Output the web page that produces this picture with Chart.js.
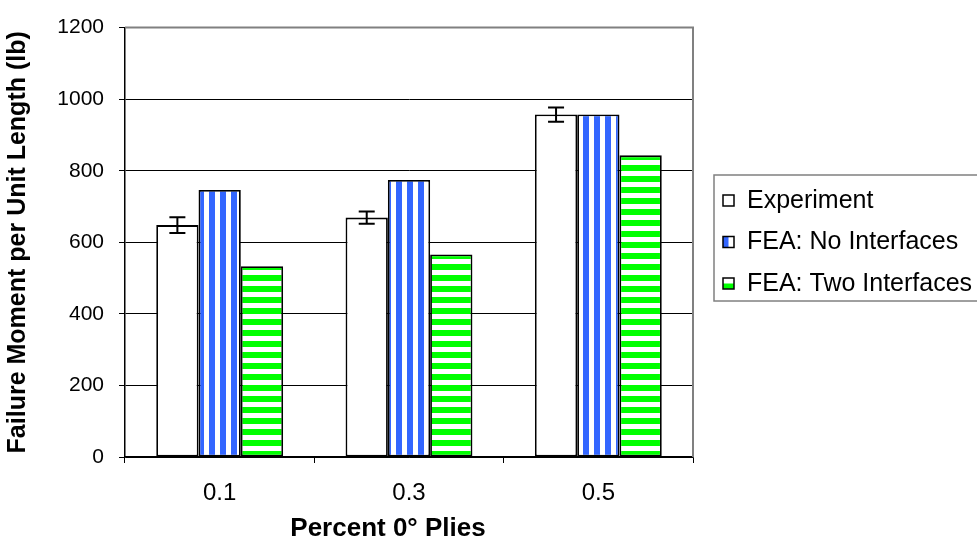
<!DOCTYPE html>
<html>
<head>
<meta charset="utf-8">
<script src="https://cdn.jsdelivr.net/npm/chart.js@4.4.1/dist/chart.umd.min.js"></script>
<style>
  body { margin: 0; background: #ffffff; }
  #wrap { width: 977px; height: 545px; position: relative; }
</style>
</head>
<body>
<div id="wrap"><canvas id="moment_chart"></canvas></div>
<script>
// categories and measured / predicted failure moments (lb)
const plies = ['0.1', '0.3', '0.5'];
const experiment = [648, 669, 957];
const experimentErr = [22, 17, 20];
const feaNoInterfaces = [746, 774, 957];
const feaTwoInterfaces = [533, 566, 843];
const seriesNames = ['Experiment', 'FEA: No Interfaces', 'FEA: Two Interfaces'];
const xTitle = 'Percent 0° Plies';

const FONT = 'Liberation Sans, Arial, sans-serif';

//striped fills for the two FEA series
function makeStripes(color, vertical) {
    const c = document.createElement('canvas');
    c.width = 11;
    c.height = 11;
    const g = c.getContext('2d');
    g.fillStyle = '#ffffff';
    g.fillRect(0, 0, 11, 11);
    g.fillStyle = color;
    if (vertical) {
        g.fillRect(0, 0, 6, 11);
    } else {
        g.fillRect(0, 0, 11, 6);
    }
    return g.createPattern(c, 'repeat');
}
const blueStripes = makeStripes('#3366ff', true);
const greenStripes = makeStripes('#00ff00', false);

// error bars on the experiment bars
const errorBars = {
    id: 'errorBars',
    afterDatasetsDraw(chart) {
        const ctx = chart.ctx;
        const y = chart.scales.y;
        const meta = chart.getDatasetMeta(0);
        ctx.save();
        ctx.strokeStyle = '#000000';
        ctx.lineWidth = 2;
        meta.data.forEach((bar, i) => {
            const top = y.getPixelForValue(experiment[i] + experimentErr[i]);
            const bot = y.getPixelForValue(experiment[i] - experimentErr[i]);
            ctx.beginPath();
            ctx.moveTo(bar.x, top);
            ctx.lineTo(bar.x, bot);
            ctx.moveTo(bar.x - 8, top);
            ctx.lineTo(bar.x + 8, top);
            ctx.moveTo(bar.x - 8, bot);
            ctx.lineTo(bar.x + 8, bot);
            ctx.stroke();
        });
        ctx.restore();
    }
};

// grey frame on top and right of plot area
const plotFrame = {
    id: 'plotFrame',
    beforeDatasetsDraw(chart) {
        const a = chart.chartArea;
        const ctx = chart.ctx;
        ctx.save();
        ctx.strokeStyle = '#808080';
        ctx.lineWidth = 2;
        ctx.beginPath();
        ctx.moveTo(a.left, a.top);
        ctx.lineTo(a.right, a.top);
        ctx.lineTo(a.right, a.bottom);
        ctx.stroke();
        ctx.restore();
    }
};

// x axis title sits a bit left of the plot centre
const xAxisTitle = {
    id: 'xAxisTitle',
    afterDraw(chart) {
        const ctx = chart.ctx;
        const a = chart.chartArea;
        ctx.save();
        ctx.font = 'bold 26px ' + FONT;
        ctx.fillStyle = '#000000';
        ctx.textAlign = 'center';
        ctx.textBaseline = 'middle';
        ctx.fillText(xTitle, (a.left + a.right) / 2 - 21, 529);
        ctx.restore();
    }
};

// little legend keys: plain, half blue (left), half green (bottom)
function drawKey(ctx, i, x, y, s) {
    ctx.fillStyle = '#ffffff';
    ctx.fillRect(x, y, s, s);
    if (i === 1) {
        ctx.fillStyle = '#3366ff';
        ctx.fillRect(x, y, s / 2, s);
    } else if (i === 2) {
        ctx.fillStyle = '#00ff00';
        ctx.fillRect(x, y + s / 2, s, s / 2);
    }
    ctx.strokeStyle = '#000000';
    ctx.lineWidth = 1.5;
    ctx.strokeRect(x, y, s, s);
}

// boxed legend to the right of the plot
const boxLegend = {
    id: 'boxLegend',
    afterDraw(chart) {
        const ctx = chart.ctx;
        const left = 714, top = 175, w = 280, h = 126;
        ctx.save();
        ctx.fillStyle = '#ffffff';
        ctx.fillRect(left, top, w, h);
        ctx.strokeStyle = '#808080';
        ctx.lineWidth = 1.5;
        ctx.strokeRect(left, top, w, h);
        ctx.font = '25px ' + FONT;
        ctx.textBaseline = 'middle';
        chart.data.datasets.forEach((ds, i) => {
            const cy = top + 25 + i * 41.5;
            drawKey(ctx, i, 723, cy - 5, 11);
            ctx.fillStyle = '#000000';
            ctx.fillText(seriesNames[i], 747, cy + 1);
        });
        ctx.restore();
    }
};

const ctx = document.getElementById('moment_chart').getContext('2d');
new Chart(ctx, {
    type: 'bar',
    data: {
        labels: plies,
        datasets: [
            {
                label: seriesNames[0],
                data: experiment,
                backgroundColor: '#ffffff',
                borderColor: '#000000',
                borderWidth: 1.8,
                borderSkipped: false
            },
            {
                label: seriesNames[1],
                data: feaNoInterfaces,
                backgroundColor: blueStripes,
                borderColor: '#000000',
                borderWidth: 1.8,
                borderSkipped: false
            },
            {
                label: seriesNames[2],
                data: feaTwoInterfaces,
                backgroundColor: greenStripes,
                borderColor: '#000000',
                borderWidth: 1.8,
                borderSkipped: false
            }
        ]
    },
    options: {
        responsive: true,
        maintainAspectRatio: false,
        animation: false,
        datasets: {
            bar: { categoryPercentage: 0.67, barPercentage: 1.0 }
        },
        layout: { padding: { top: 20, right: 284, left: 0, bottom: 0 } },
        plugins: {
            legend: { display: false },
            tooltip: { enabled: false }
        },
        scales: {
            x: {
                grid: {
                    offset: true,
                    drawOnChartArea: false,
                    drawTicks: true,
                    tickLength: 6,
                    tickColor: '#000000'
                },
                border: { color: '#000000', width: 1.5 },
                ticks: {
                    color: '#000000',
                    padding: 16,
                    font: { family: FONT, size: 24 }
                },
                afterFit(axis) { axis.height = 88; }
            },
            y: {
                min: 0,
                max: 1200,
                ticks: {
                    stepSize: 200,
                    color: '#000000',
                    padding: 15,
                    font: { family: FONT, size: 21 },
                    callback: v => String(v)
                },
                grid: {
                    color: c => (c.tick && c.tick.value === 1200) ? 'rgba(0,0,0,0)' : '#000000',
                    lineWidth: 1,
                    tickLength: 6,
                    tickColor: '#000000'
                },
                border: { color: '#000000', width: 1.5 },
                title: {
                    display: true,
                    text: 'Failure Moment per Unit Length (lb)',
                    color: '#000000',
                    padding: { top: 3, bottom: 0 },
                    font: { family: FONT, size: 25, weight: 'bold' }
                },
                afterFit(axis) { axis.width = 125; }
            }
        }
    },
    plugins: [errorBars, plotFrame, xAxisTitle, boxLegend]
});
</script>
</body>
</html>
